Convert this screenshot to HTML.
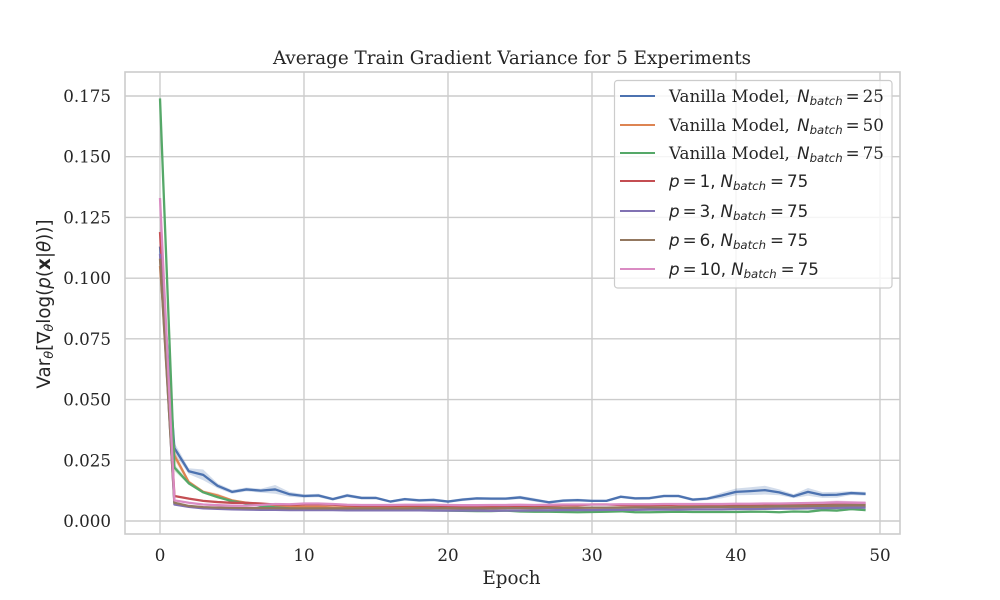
<!DOCTYPE html>
<html>
<head>
<meta charset="utf-8">
<title>Average Train Gradient Variance for 5 Experiments</title>
<style>
html,body{margin:0;padding:0;background:#fff;width:1000px;height:600px;overflow:hidden}
svg{display:block}
text{fill:#262626;font-family:"DejaVu Serif","Liberation Serif",serif}
.m{font-family:"DejaVu Sans","Liberation Sans",sans-serif}
.i{font-family:"DejaVu Sans","Liberation Sans",sans-serif;font-style:italic}
.tick{font-size:16.7px}
.leg{font-size:16.7px}
.sub{font-size:11.7px}
</style>
</head>
<body>
<svg id="chart" width="1000" height="600" viewBox="0 0 1000 600" xmlns="http://www.w3.org/2000/svg">
  <defs><clipPath id="plot-clip"><rect x="125" y="72" width="775" height="462"/></clipPath></defs>
  <rect x="125" y="72" width="775" height="462" fill="#fff"/>
  <g id="grid"></g>
  <g id="series" clip-path="url(#plot-clip)"></g>
  <rect x="125" y="72" width="775" height="462" fill="none" stroke="#cccccc" stroke-width="1.6"/>
  <g id="xticks"></g>
  <g id="yticks"></g>
  <text x="512" y="64" text-anchor="middle" font-size="18.3">Average Train Gradient Variance for 5 Experiments</text>
  <text x="511.500" y="584" text-anchor="middle" font-size="18.3">Epoch</text>
  <text transform="translate(50 304) rotate(-90)" text-anchor="middle" font-size="18.3" class="m">Var<tspan class="i" font-size="12.800" dy="3">θ</tspan><tspan dy="-3">[∇</tspan><tspan class="i" font-size="12.800" dy="3">θ</tspan><tspan dy="-3">log(</tspan><tspan class="i">p</tspan><tspan>(</tspan><tspan font-weight="bold">x</tspan><tspan>|</tspan><tspan class="i">θ</tspan><tspan>))]</tspan></text>

  <g>
    <rect x="614.500" y="80.500" width="277.500" height="207.500" rx="3" ry="3" fill="#fff" fill-opacity="0.8" stroke="#cccccc" stroke-width="1.2"/>
    <g>
      <line x1="620" x2="655" y1="96" y2="96" stroke="#4c72b0" stroke-width="2.08"/>
      <text class="leg" x="669" y="102">Vanilla Model, <tspan class="i" dx="2">N</tspan><tspan class="i sub" dy="3">batch</tspan><tspan dy="-3" dx="3">=</tspan><tspan dx="3">25</tspan></text>
    </g>
    <g>
      <line x1="620" x2="655" y1="125" y2="125" stroke="#dd8452" stroke-width="2.08"/>
      <text class="leg" x="669" y="131">Vanilla Model, <tspan class="i" dx="2">N</tspan><tspan class="i sub" dy="3">batch</tspan><tspan dy="-3" dx="3">=</tspan><tspan dx="3">50</tspan></text>
    </g>
    <g>
      <line x1="620" x2="655" y1="153" y2="153" stroke="#55a868" stroke-width="2.08"/>
      <text class="leg" x="669" y="159">Vanilla Model, <tspan class="i" dx="2">N</tspan><tspan class="i sub" dy="3">batch</tspan><tspan dy="-3" dx="3">=</tspan><tspan dx="3">75</tspan></text>
    </g>
    <g>
      <line x1="620" x2="655" y1="181" y2="181" stroke="#c44e52" stroke-width="2.08"/>
      <text class="leg m" x="669" y="187"><tspan class="i">p</tspan><tspan dx="3">=</tspan><tspan dx="3">1,</tspan><tspan class="i" dx="5">N</tspan><tspan class="i sub" dy="3">batch</tspan><tspan dy="-3" dx="4">=</tspan><tspan dx="3">75</tspan></text>
    </g>
    <g>
      <line x1="620" x2="655" y1="211" y2="211" stroke="#8172b3" stroke-width="2.08"/>
      <text class="leg m" x="669" y="217"><tspan class="i">p</tspan><tspan dx="3">=</tspan><tspan dx="3">3,</tspan><tspan class="i" dx="5">N</tspan><tspan class="i sub" dy="3">batch</tspan><tspan dy="-3" dx="4">=</tspan><tspan dx="3">75</tspan></text>
    </g>
    <g>
      <line x1="620" x2="655" y1="240" y2="240" stroke="#937860" stroke-width="2.08"/>
      <text class="leg m" x="669" y="246"><tspan class="i">p</tspan><tspan dx="3">=</tspan><tspan dx="3">6,</tspan><tspan class="i" dx="5">N</tspan><tspan class="i sub" dy="3">batch</tspan><tspan dy="-3" dx="4">=</tspan><tspan dx="3">75</tspan></text>
    </g>
    <g>
      <line x1="620" x2="655" y1="269" y2="269" stroke="#da8bc3" stroke-width="2.08"/>
      <text class="leg m" x="669" y="275"><tspan class="i">p</tspan><tspan dx="3">=</tspan><tspan dx="3">10,</tspan><tspan class="i" dx="5">N</tspan><tspan class="i sub" dy="3">batch</tspan><tspan dy="-3" dx="4">=</tspan><tspan dx="3">75</tspan></text>
    </g>
  </g>
</svg>
<script>
const xTickValues = [0, 10, 20, 30, 40, 50];
const yTickValues = [0, 0.025, 0.05, 0.075, 0.1, 0.125, 0.15, 0.175];
const yTickLabels = ["0.000", "0.025", "0.050", "0.075", "0.100", "0.125", "0.150", "0.175"];
const seriesNames = ["vanilla-25", "vanilla-50", "vanilla-75", "p-1", "p-3", "p-6", "p-10"];
const seriesColors = ["#4c72b0", "#dd8452", "#55a868", "#c44e52", "#8172b3", "#937860", "#da8bc3"];

const vanilla25 = [0.113,0.0300,0.0205,0.0190,0.0145,0.0120,0.0130,0.0125,0.0130,0.0110,0.0103,0.0105,0.0090,0.0105,0.0095,0.0095,0.0080,0.0090,0.0085,0.0087,0.0080,0.0088,0.0093,0.0092,0.0092,0.0097,0.0087,0.0077,0.0084,0.0086,0.0083,0.0083,0.0100,0.0093,0.0094,0.0103,0.0103,0.0088,0.0092,0.0105,0.0120,0.0123,0.0127,0.0118,0.0102,0.0120,0.0107,0.0108,0.0115,0.0112];
const vanilla50 = [0.105,0.0270,0.0160,0.0120,0.0105,0.0085,0.0075,0.0068,0.0062,0.0060,0.0058,0.0058,0.0056,0.0056,0.0055,0.0054,0.0055,0.0055,0.0055,0.0054,0.0053,0.0052,0.0053,0.0053,0.0054,0.0054,0.0053,0.0054,0.0054,0.0055,0.0055,0.0055,0.0056,0.0056,0.0056,0.0056,0.0056,0.0057,0.0057,0.0057,0.0057,0.0058,0.0058,0.0058,0.0059,0.0059,0.0059,0.0060,0.0060,0.0060];
const vanilla75 = [0.174,0.0220,0.0155,0.0118,0.0098,0.0082,0.0072,0.0062,0.0056,0.0052,0.0050,0.0049,0.0048,0.0047,0.0046,0.0046,0.0045,0.0045,0.0045,0.0044,0.0043,0.0042,0.0041,0.0041,0.0043,0.0039,0.0038,0.0038,0.0037,0.0036,0.0037,0.0038,0.0040,0.0036,0.0036,0.0037,0.0038,0.0037,0.0037,0.0037,0.0037,0.0038,0.0038,0.0036,0.0039,0.0038,0.0045,0.0043,0.0049,0.0045];
const p1 = [0.119,0.0103,0.0092,0.0083,0.0078,0.0075,0.0075,0.0072,0.0068,0.0067,0.0068,0.0068,0.0067,0.0064,0.0062,0.0062,0.0062,0.0063,0.0063,0.0063,0.0062,0.0060,0.0059,0.0060,0.0061,0.0062,0.0062,0.0063,0.0065,0.0065,0.0068,0.0068,0.0066,0.0065,0.0065,0.0066,0.0067,0.0067,0.0067,0.0067,0.0067,0.0068,0.0068,0.0069,0.0069,0.0069,0.0069,0.0070,0.0071,0.0072];
const p3 = [0.110,0.0068,0.0058,0.0052,0.0050,0.0048,0.0047,0.0046,0.0046,0.0045,0.0045,0.0045,0.0045,0.0044,0.0044,0.0044,0.0044,0.0044,0.0044,0.0043,0.0043,0.0043,0.0043,0.0042,0.0043,0.0043,0.0044,0.0044,0.0045,0.0045,0.0045,0.0046,0.0046,0.0046,0.0047,0.0047,0.0047,0.0048,0.0048,0.0048,0.0049,0.0049,0.0050,0.0051,0.0051,0.0052,0.0053,0.0054,0.0055,0.0055];
const p6 = [0.108,0.0075,0.0062,0.0057,0.0055,0.0054,0.0053,0.0053,0.0053,0.0052,0.0052,0.0052,0.0052,0.0052,0.0052,0.0052,0.0052,0.0052,0.0053,0.0053,0.0053,0.0052,0.0052,0.0052,0.0053,0.0053,0.0053,0.0054,0.0054,0.0054,0.0055,0.0055,0.0055,0.0056,0.0056,0.0056,0.0057,0.0057,0.0058,0.0058,0.0059,0.0059,0.0060,0.0061,0.0062,0.0062,0.0063,0.0064,0.0065,0.0065];
const p10 = [0.133,0.0085,0.0075,0.0068,0.0065,0.0063,0.0063,0.0066,0.0070,0.0069,0.0072,0.0072,0.0070,0.0067,0.0066,0.0066,0.0066,0.0067,0.0067,0.0067,0.0066,0.0065,0.0065,0.0066,0.0066,0.0067,0.0066,0.0067,0.0068,0.0068,0.0068,0.0068,0.0069,0.0069,0.0069,0.0070,0.0070,0.0070,0.0070,0.0070,0.0071,0.0071,0.0072,0.0072,0.0073,0.0074,0.0075,0.0077,0.0076,0.0075];

const band25 = [0.004,0.0022,0.0012,0.0022,0.0010,0.0008,0.0008,0.0008,0.0018,0.0010,0.0007,0.0007,0.0006,0.0007,0.0006,0.0006,0.0005,0.0006,0.0006,0.0006,0.0005,0.0006,0.0006,0.0006,0.0006,0.0007,0.0007,0.0005,0.0006,0.0006,0.0005,0.0005,0.0006,0.0006,0.0006,0.0006,0.0006,0.0006,0.0006,0.0012,0.0014,0.0016,0.0018,0.0012,0.0008,0.0016,0.0012,0.0012,0.0008,0.0008];
const band50 = [0.004,0.0020,0.0008,0.0006,0.0008,0.0005,0.0004,0.0003,0.0003,0.0003,0.0003,0.0003,0.0003,0.0003,0.0003,0.0003,0.0003,0.0003,0.0003,0.0003,0.0003,0.0003,0.0003,0.0003,0.0003,0.0003,0.0003,0.0003,0.0003,0.0003,0.0003,0.0003,0.0003,0.0003,0.0003,0.0003,0.0003,0.0003,0.0003,0.0003,0.0003,0.0003,0.0003,0.0003,0.0003,0.0003,0.0003,0.0003,0.0003,0.0003];
const band75 = [0.003,0.0015,0.0006,0.0005,0.0005,0.0004,0.0004,0.0003,0.0003,0.0003,0.0003,0.0003,0.0003,0.0003,0.0003,0.0003,0.0003,0.0003,0.0003,0.0003,0.0003,0.0003,0.0003,0.0003,0.0003,0.0003,0.0003,0.0003,0.0003,0.0003,0.0003,0.0003,0.0003,0.0003,0.0003,0.0003,0.0003,0.0003,0.0003,0.0003,0.0003,0.0003,0.0003,0.0003,0.0003,0.0005,0.0005,0.0005,0.0005,0.0005];
const bandP = [0.003,0.0004,0.0003,0.0003,0.0003,0.0003,0.0003,0.0003,0.0003,0.0003,0.0003,0.0003,0.0003,0.0003,0.0003,0.0003,0.0003,0.0003,0.0003,0.0003,0.0003,0.0003,0.0003,0.0003,0.0003,0.0003,0.0003,0.0003,0.0003,0.0003,0.0003,0.0003,0.0003,0.0003,0.0003,0.0003,0.0003,0.0003,0.0003,0.0003,0.0003,0.0003,0.0003,0.0003,0.0004,0.0004,0.0005,0.0008,0.0006,0.0005];

const seriesValues = [vanilla25, vanilla50, vanilla75, p1, p3, p6, p10];
const seriesBands = [band25, band50, band75, bandP, bandP, bandP, bandP];

const NS = "http://www.w3.org/2000/svg";
function xScale(v) { return 160 + v * 14.4; }
function yScale(v) { return 521 - v * 2428.6; }

const gridLayer = document.getElementById("grid");
const xLayer = document.getElementById("xticks");
const yLayer = document.getElementById("yticks");
const seriesLayer = document.getElementById("series");

xTickValues.forEach(function (t) {
  const line = document.createElementNS(NS, "line");
  
  
  line.setAttribute("x1", xScale(t));
  line.setAttribute("x2", xScale(t));
  line.setAttribute("y1", 72);
  line.setAttribute("y2", 534);
  line.setAttribute("stroke", "#cccccc");
  line.setAttribute("stroke-width", 1.4);
  gridLayer.appendChild(line);
  const label = document.createElementNS(NS, "text");
  
  
  label.setAttribute("class", "tick");
  label.setAttribute("x", xScale(t));
  label.setAttribute("y", 561);
  label.setAttribute("text-anchor", "middle");
  label.textContent = String(t);
  xLayer.appendChild(label);
});

yTickValues.forEach(function (t, i) {
  const line = document.createElementNS(NS, "line");
  
  
  line.setAttribute("x1", 125);
  line.setAttribute("x2", 900);
  line.setAttribute("y1", yScale(t));
  line.setAttribute("y2", yScale(t));
  line.setAttribute("stroke", "#cccccc");
  line.setAttribute("stroke-width", 1.4);
  gridLayer.appendChild(line);
  const label = document.createElementNS(NS, "text");
  
  
  label.setAttribute("class", "tick");
  label.setAttribute("x", 111);
  label.setAttribute("y", yScale(t) + 6);
  label.setAttribute("text-anchor", "end");
  label.textContent = yTickLabels[i];
  yLayer.appendChild(label);
});

seriesValues.forEach(function (vals, s) {
  const band = seriesBands[s];
  const upper = vals.map(function (v, i) { return xScale(i).toFixed(2) + "," + yScale(v + band[i]).toFixed(2); });
  const lower = vals.map(function (v, i) { return xScale(i).toFixed(2) + "," + yScale(v - band[i]).toFixed(2); }).reverse();
  const area = document.createElementNS(NS, "polygon");
  
  
  area.setAttribute("points", upper.concat(lower).join(" "));
  area.setAttribute("fill", seriesColors[s]);
  area.setAttribute("fill-opacity", 0.25);
  seriesLayer.appendChild(area);
  const path = document.createElementNS(NS, "polyline");
  
  
  path.setAttribute("data-series", seriesNames[s]);
  path.setAttribute("points", vals.map(function (v, i) { return xScale(i).toFixed(2) + "," + yScale(v).toFixed(2); }).join(" "));
  path.setAttribute("fill", "none");
  path.setAttribute("stroke", seriesColors[s]);
  path.setAttribute("stroke-width", 2.3);
  path.setAttribute("stroke-linejoin", "round");
  seriesLayer.appendChild(path);
});
</script>
</body>
</html>
